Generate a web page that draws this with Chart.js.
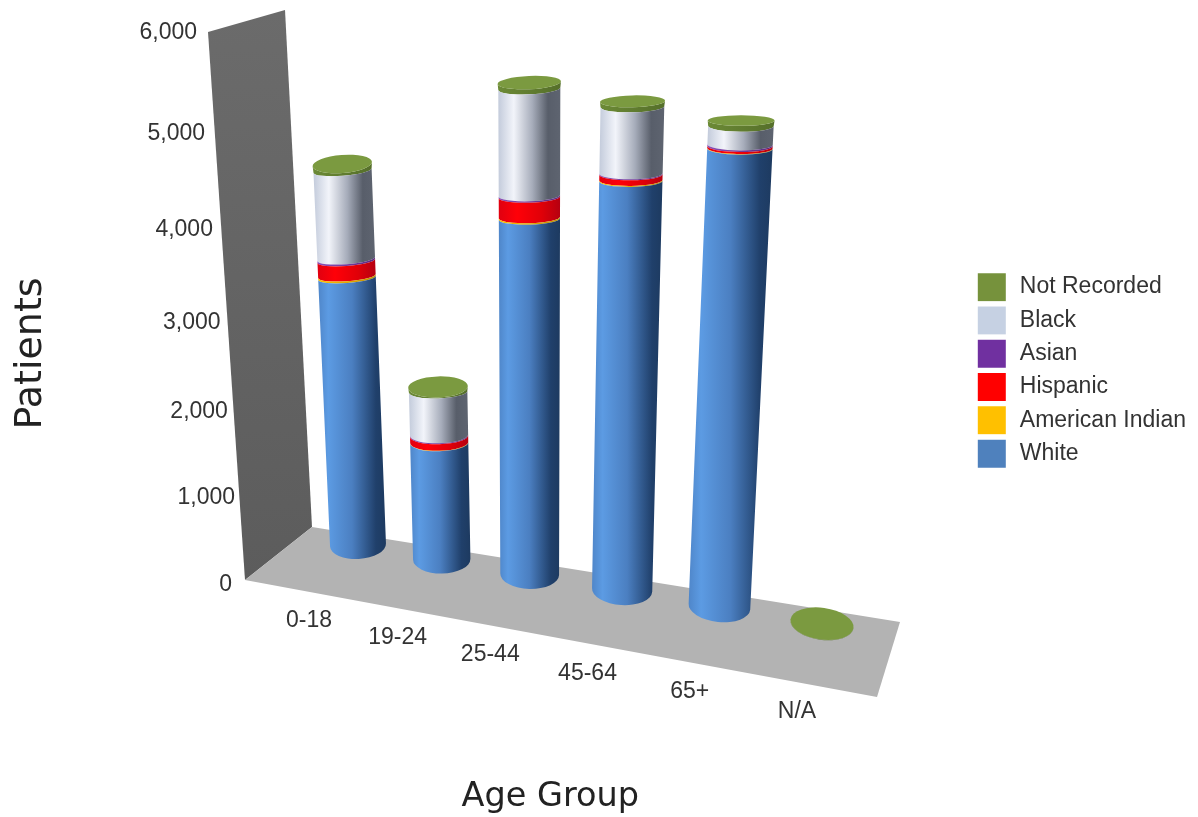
<!DOCTYPE html>
<html>
<head>
<meta charset="utf-8">
<title>Patients by age group</title>
<style>
  body { margin: 0; background: #fff; }
  canvas { display: block; }
</style>
<script src="https://cdn.jsdelivr.net/npm/chart.js@4"></script>
</head>
<body>
<canvas id="myChart" width="1198" height="817"></canvas>
<script>
const ageGroups = ['0-18', '19-24', '25-44', '45-64', '65+', 'N/A'];

const white = [3185, 1405, 3980, 4430, 4800, 0];
const americanIndian = [20, 5, 15, 10, 5, 0];
const hispanic = [170, 75, 210, 55, 20, 0];
const asian = [20, 10, 15, 10, 15, 0];
const black = [965, 505, 1070, 650, 175, 0];
const notRecorded = [70, 55, 60, 50, 50, 4];

const yTicks = [0, 1000, 2000, 3000, 4000, 5000, 6000];

// Side shading of each stack layer, left to right
const blueShade = [[0, '#4f86c9'], [0.15, '#5c9be3'], [0.5, '#4b7fc1'], [0.85, '#20406b'], [1, '#1d3a60']];
const orangeShade = [[0, '#ffc000'], [1, '#c09000']];
const redShade = [[0, '#e00010'], [0.3, '#ff0008'], [0.7, '#e00008'], [1, '#b50010']];
const purpleShade = [[0, '#8a50b8'], [1, '#5a2a80']];
const paleShade = [[0, '#c3cbdb'], [0.25, '#f2f4fa'], [0.55, '#a6acba'], [0.8, '#585e6a'], [1, '#5e6470']];
const greenShade = [[0, '#6c8a36'], [1, '#556f2a']];

// Homography from the unit square onto a screen quad
function quadMap(q) {
  const [[x0, y0], [x1, y1], [x2, y2], [x3, y3]] = q;
  const dx1 = x1 - x2, dx2 = x3 - x2, sx = x0 - x1 + x2 - x3;
  const dy1 = y1 - y2, dy2 = y3 - y2, sy = y0 - y1 + y2 - y3;
  const det = dx1 * dy2 - dx2 * dy1;
  const g = (sx * dy2 - dx2 * sy) / det;
  const h = (dx1 * sy - sx * dy1) / det;
  const a = x1 - x0 + g * x1, b = x3 - x0 + h * x3;
  const d = y1 - y0 + g * y1, e = y3 - y0 + h * y3;
  return (s, t) => {
    const w = g * s + h * t + 1;
    return { x: (a * s + b * t + x0) / w, y: (d * s + e * t + y0) / w };
  };
}

// Plane through the bar axes: first/last category, value 0 and axis max
const barPlane = quadMap([[358, 545], [822, 624], [864, 20], [336, 12]]);
// Wall: front/back edge, floor level and axis max
const wallMap = quadMap([[245, 580], [312, 527], [285, 10], [208, 32]]);

const wallShape = [[245, 580], [312, 527], [285, 10], [208, 32]];
const floorShape = [[245, 580], [312, 527], [900, 622], [877, 697]];

// Chart pixels to unit coordinates on the bar plane
function toUnit(chart, px, py) {
  const xs = chart.scales.x, ys = chart.scales.y;
  const x0 = xs.getPixelForValue(0), x1 = xs.getPixelForValue(ageGroups.length - 1);
  return { s: (px - x0) / (x1 - x0), t: (ys.bottom - py) / (ys.bottom - ys.top) };
}

// Ellipse of the cylinder at a given bar position; rings flatten towards the top
function ring(chart, px, py, width, isCap) {
  const { s, t } = toUnit(chart, px, py);
  const half = width / 2 / (chart.scales.x.getPixelForValue(ageGroups.length - 1) - chart.scales.x.getPixelForValue(0));
  const c = barPlane(s, t);
  const l = barPlane(s - half, t), r = barPlane(s + half, t);
  // the plane spreads categories faster than the cylinders themselves grow
  let rx = Math.sqrt(Math.abs(r.x - l.x) * 59) / 2;
  const low = Math.max(0, 1 - t / 0.55);
  let ratio = 0.18 + 0.32 * low * low;
  if (isCap && t > 0.05) {
    ratio = 0.455 - 0.207 * t - 0.154 * s;
    rx *= 1.02;
  }
  const deg = (-3 + 11 * s) * (1 - t) + (-5 + 5 * s) * t;
  return { x: c.x, y: c.y, rx: rx, ry: rx * ratio, rot: deg * Math.PI / 180 };
}

class CylinderController extends Chart.BarController {
  draw() {
    const chart = this.chart, ctx = chart.ctx;
    const meta = this.getMeta();
    const dataset = this.getDataset();
    const isTop = this.index === chart.data.datasets.length - 1;
    meta.data.forEach((bar) => {
      const low = ring(chart, bar.x, bar.base, bar.width, false);
      const high = ring(chart, bar.x, bar.y, bar.width, isTop);
      if (bar.base - bar.y > 0.2) {
        const left = Math.min(low.x - low.rx, high.x - high.rx);
        const right = Math.max(low.x + low.rx, high.x + high.rx);
        const grad = ctx.createLinearGradient(left, 0, right, 0);
        dataset.shade.forEach(([pos, col]) => grad.addColorStop(pos, col));
        ctx.beginPath();
        ctx.ellipse(high.x, high.y, high.rx, high.ry, high.rot, 0, Math.PI);
        ctx.ellipse(low.x, low.y, low.rx, low.ry, low.rot, Math.PI, 0, true);
        ctx.closePath();
        ctx.fillStyle = grad;
        ctx.fill();
      }
      if (isTop) {
        ctx.beginPath();
        ctx.ellipse(high.x, high.y, high.rx, high.ry, high.rot, 0, Math.PI * 2);
        ctx.fillStyle = '#7b9a40';
        ctx.fill();
      }
    });
  }
}
CylinderController.id = 'cylinder';
Chart.register(CylinderController);

function fillShape(ctx, pts, fill) {
  ctx.beginPath();
  pts.forEach(([x, y], i) => (i ? ctx.lineTo(x, y) : ctx.moveTo(x, y)));
  ctx.closePath();
  ctx.fillStyle = fill;
  ctx.fill();
}

// Wall and floor behind the bars
const backdrop = {
  id: 'backdrop',
  beforeDatasetsDraw(chart) {
    const ctx = chart.ctx;
    const wall = ctx.createLinearGradient(0, 10, 0, 580);
    wall.addColorStop(0, '#6b6b6b');
    wall.addColorStop(1, '#5c5c5c');
    fillShape(ctx, wallShape, wall);
    fillShape(ctx, floorShape, '#b3b3b3');
  }
};

// Tick labels follow the tilted wall edge and the floor edge
const tiltedTicks = {
  id: 'tiltedTicks',
  afterDatasetsDraw(chart) {
    const ctx = chart.ctx;
    const xs = chart.scales.x, ys = chart.scales.y;
    ctx.save();
    ctx.fillStyle = '#333';
    ctx.font = '23px "Liberation Sans"';
    ctx.textBaseline = 'middle';
    ctx.textAlign = 'right';
    ys.ticks.forEach((tick) => {
      const t = (ys.bottom - ys.getPixelForValue(tick.value)) / (ys.bottom - ys.top);
      const p = wallMap(0, t);
      if (tick.value === 0) ctx.fillText(tick.label, p.x - 13, p.y + 5);
      else ctx.fillText(tick.label, p.x - 3 - 8 * t, p.y + 1);
    });
    ctx.textAlign = 'center';
    ageGroups.forEach((name, i) => {
      const { s } = toUnit(chart, xs.getPixelForValue(i), ys.bottom);
      const p = barPlane(s, 0);
      ctx.fillText(name, p.x - 49 + 24 * s, p.y + 76 + 12 * s);
    });
    ctx.restore();
  }
};

const layers = [
  { label: 'White', data: white, backgroundColor: '#4f81bd', shade: blueShade },
  { label: 'American Indian', data: americanIndian, backgroundColor: '#ffc000', shade: orangeShade },
  { label: 'Hispanic', data: hispanic, backgroundColor: '#ff0000', shade: redShade },
  { label: 'Asian', data: asian, backgroundColor: '#7030a0', shade: purpleShade },
  { label: 'Black', data: black, backgroundColor: '#c6d1e3', shade: paleShade },
  { label: 'Not Recorded', data: notRecorded, backgroundColor: '#76923c', shade: greenShade }
];
layers.forEach((l) => { l.borderColor = '#fff'; l.borderWidth = 5; });

new Chart(document.getElementById('myChart').getContext('2d'), {
  type: 'cylinder',
  data: { labels: ageGroups, datasets: layers },
  options: {
    responsive: false,
    animation: false,
    barPercentage: 0.65,
    categoryPercentage: 1,
    layout: { padding: { left: 8, right: 2, top: 10, bottom: 0 } },
    plugins: {
      tooltip: { enabled: false },
      legend: {
        position: 'right',
        fullSize: false,
        reverse: true,
        title: { display: true, text: ' ', font: { size: 10 }, padding: 11 },
        labels: {
          boxWidth: 33,
          boxHeight: 33,
          padding: 0.3,
          color: '#333',
          font: { family: '"Liberation Sans"', size: 23 }
        }
      }
    },
    scales: {
      x: {
        stacked: true,
        grid: { display: false },
        border: { display: false },
        ticks: { display: false },
        title: {
          display: true,
          text: 'Age Group',
          color: '#222',
          font: { family: '"DejaVu Sans"', size: 33.5 },
          padding: { top: 72, bottom: 0 }
        }
      },
      y: {
        stacked: true,
        min: 0,
        max: yTicks[yTicks.length - 1],
        grid: { display: false },
        border: { display: false },
        ticks: {
          display: false,
          stepSize: 1000,
          callback: (v) => v.toLocaleString('en-US')
        },
        title: {
          display: true,
          text: 'Patients',
          color: '#222',
          font: { family: '"DejaVu Sans"', size: 38 },
          padding: { top: 0, bottom: 64 }
        }
      }
    }
  },
  plugins: [backdrop, tiltedTicks]
});
</script>
</body>
</html>
